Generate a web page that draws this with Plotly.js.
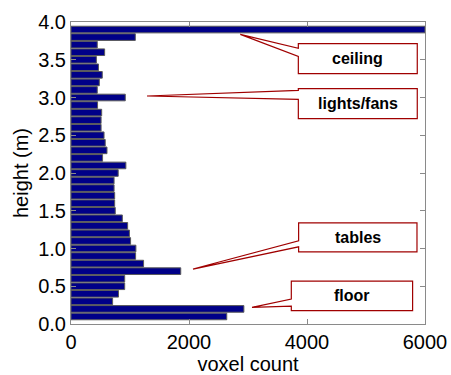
<!DOCTYPE html>
<html>
<head>
<meta charset="utf-8">
<script src="https://cdn.plot.ly/plotly-3.0.1.min.js"></script>
<style>html,body{margin:0;padding:0;background:#fff;}#chart{width:451px;height:375px;}</style>
</head>
<body>
<div id="chart"></div>
<script>
// Height bin centres (m), bottom to top
const heights = [0.1,0.2,0.3,0.4,0.5,0.6,0.7,0.8,0.9,1.0,
                 1.1,1.2,1.3,1.4,1.5,1.6,1.7,1.8,1.9,2.0,
                 2.1,2.2,2.3,2.4,2.5,2.6,2.7,2.8,2.9,3.0,
                 3.1,3.2,3.3,3.4,3.5,3.6,3.7,3.8,3.9];
// Voxel counts per bin
const voxelCounts = [2640,2930,705,805,910,910,1860,1230,1095,1100,
                     1010,990,960,870,750,740,740,730,730,800,
                     930,535,610,580,560,510,510,520,450,920,
                     445,480,530,465,430,570,445,1090,6000];
const xTicks = [0,2000,4000,6000];
const yTicks = [0,0.5,1,1.5,2,2.5,3,3.5,4];
const yTickText = ['0.0','0.5','1.0','1.5','2.0','2.5','3.0','3.5','4.0'];
// Callout labels
const calloutLabels = ['ceiling','lights/fans','tables','floor'];

const red = '#a00000';
// callout geometry in data units: [boxX0, boxX1, boxTop, boxBot, tipX, tipY, baseHigh, baseLow]
const callouts = [
  [3853,5869,3.713,3.316,2869,3.836,3.651,3.545],
  [3853,5869,3.118,2.721,1288,3.020,3.095,2.976],
  [3858,5864,1.340,0.956,2068,0.728,1.102,1.022],
  [3734,5790,0.569,0.176,3068,0.221,0.331,0.238]
];
const shapes = callouts.map(c => ({
  type:'path', xref:'x', yref:'y', layer:'above',
  path:`M ${c[0]},${c[2]} L ${c[1]},${c[2]} L ${c[1]},${c[3]} L ${c[0]},${c[3]} L ${c[0]},${c[7]} L ${c[4]},${c[5]} L ${c[0]},${c[6]} Z`,
  fillcolor:'#ffffff', line:{color:red, width:1.2}
}));
const annotations = callouts.map((c,i) => ({
  xref:'x', yref:'y', x:(c[0]+c[1])/2, y:(c[2]+c[3])/2,
  text:'<b>'+calloutLabels[i]+'</b>', showarrow:false,
  font:{family:'Liberation Sans, Arial, sans-serif', size:16, color:'#000'}
}));

const trace = {
  type:'bar', orientation:'h', x:voxelCounts, y:heights, width:0.088,
  marker:{color:'#000088', line:{color:'#5a5a5a', width:1}},
  hoverinfo:'skip'
};
const axisCommon = {
  showgrid:false, zeroline:false, showline:true, mirror:'ticks',
  linecolor:'#8a8a8a', linewidth:1, ticks:'inside', ticklen:5, tickcolor:'#8a8a8a',
  tickfont:{family:'Liberation Sans, Arial, sans-serif', size:20, color:'#000'}
};
const layout = {
  width:451, height:375,
  margin:{l:71, r:26, t:22, b:51, pad:0},
  paper_bgcolor:'#fff', plot_bgcolor:'#fff',
  showlegend:false, bargap:0,
  xaxis:Object.assign({}, axisCommon, {
    range:[0,6000], tickvals:xTicks, ticktext:xTicks.map(String),
    title:{text:'voxel count', standoff:0, font:{family:'Liberation Sans, Arial, sans-serif', size:20, color:'#000'}}
  }),
  yaxis:Object.assign({}, axisCommon, {
    range:[0,4], tickvals:yTicks, ticktext:yTickText,
    title:{text:'height (m)', standoff:4, font:{family:'Liberation Sans, Arial, sans-serif', size:20, color:'#000'}}
  }),
  shapes:shapes, annotations:annotations
};
Plotly.newPlot('chart',[trace],layout,{staticPlot:true, displayModeBar:false});
</script>
</body>
</html>
